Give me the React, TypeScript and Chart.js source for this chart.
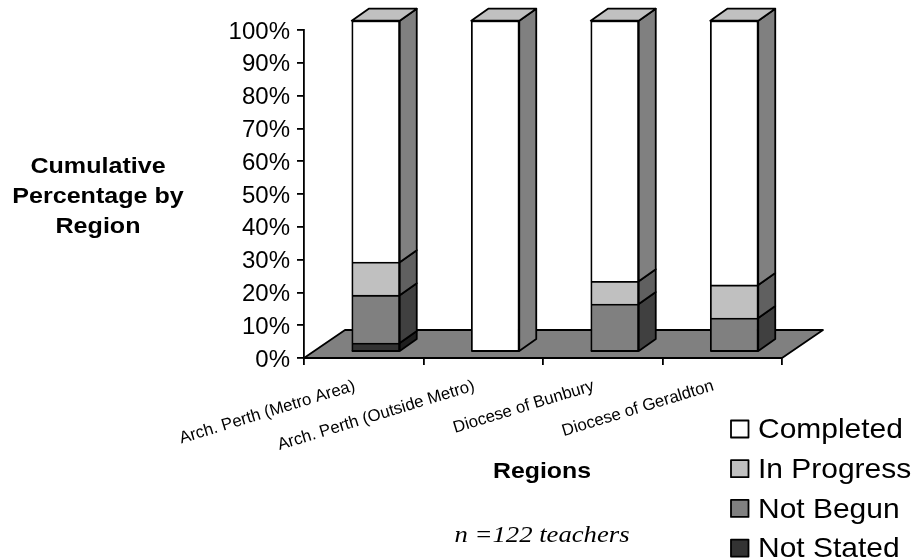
import React, { useEffect, useRef } from "react";
import { Chart, registerables } from "chart.js";

Chart.register(...registerables);

const regions = [
  "Arch. Perth (Metro Area)",
  "Arch. Perth (Outside Metro)",
  "Diocese of Bunbury",
  "Diocese of Geraldton",
];
const notStated = [2.4, 0, 0, 0];
const notBegun = [14.5, 0, 14.2, 10];
const inProgress = [10, 0, 6.9, 10];
const completed = [73.1, 100, 78.9, 80];

const seriesLabels = ["Not Stated", "Not Begun", "In Progress", "Completed"];
const frontColors = ["#333333", "#808080", "#c0c0c0", "#ffffff"];
const sideColors = ["#1f1f1f", "#404040", "#606060", "#808080"];
const capColor = "#c0c0c0";
const floorColor = "#808080";
const ink = "#000000";

const SANS = "'Liberation Sans', Arial, sans-serif";
const SERIF = "'Liberation Serif', 'Times New Roman', serif";

// Depth of the box-shaped bars and of the floor they stand on.
const BAR_DEPTH = { x: 17, y: -12 };
const FLOOR_DEPTH = { x: 41, y: -28 };
const BAR_SHIFT = 12;
const EDGE = 1.8;

function polygon(ctx: CanvasRenderingContext2D, pts: number[][], fill: string, width = EDGE) {
  ctx.beginPath();
  pts.forEach(([x, y], i) => (i ? ctx.lineTo(x, y) : ctx.moveTo(x, y)));
  ctx.closePath();
  ctx.fillStyle = fill;
  ctx.fill();
  ctx.lineWidth = width;
  ctx.strokeStyle = ink;
  ctx.lineJoin = "round";
  ctx.stroke();
}

// Text drawn slightly wider than its natural proportions.
function wideText(ctx: CanvasRenderingContext2D, text: string, x: number, y: number, stretch: number) {
  ctx.save();
  ctx.translate(x, y);
  ctx.scale(stretch, 1);
  ctx.fillText(text, 0, 0);
  ctx.restore();
}

const floorPlugin = {
  id: "floor",
  beforeDraw(chart: any) {
    const { left, right, bottom } = chart.chartArea;
    const { x: dx, y: dy } = FLOOR_DEPTH;
    polygon(chart.ctx, [[left, bottom], [right, bottom], [right + dx, bottom + dy], [left + dx, bottom + dy]], floorColor);
  },
};

// Bars sit a little behind the front edge of the floor, so the dataset layer is shifted.
const boxPlugin = {
  id: "boxes",
  beforeDatasetsDraw(chart: any) {
    chart.ctx.save();
    chart.ctx.translate(BAR_SHIFT, 0);
  },
  afterDatasetsDraw(chart: any) {
    const ctx = chart.ctx;
    const { x: dx, y: dy } = BAR_DEPTH;
    regions.forEach((_, j) => {
      let topEl: any = null;
      let lowest: any = null;
      chart.data.datasets.forEach((_d: any, i: number) => {
        const el = chart.getDatasetMeta(i).data[j];
        if (Math.abs(el.base - el.y) < 0.01) return;
        const r = el.x + el.width / 2;
        polygon(ctx, [[r, el.base], [r, el.y], [r + dx, el.y + dy], [r + dx, el.base + dy]], sideColors[i]);
        topEl = el;
        lowest = lowest || el;
      });
      if (topEl) {
        const l = topEl.x - topEl.width / 2;
        const r = topEl.x + topEl.width / 2;
        polygon(ctx, [[l, topEl.y], [r, topEl.y], [r + dx, topEl.y + dy], [l + dx, topEl.y + dy]], capColor);
        ctx.beginPath();
        ctx.moveTo(l, lowest.base);
        ctx.lineTo(r, lowest.base);
        ctx.lineWidth = EDGE;
        ctx.strokeStyle = ink;
        ctx.stroke();
      }
    });
    ctx.restore();
  },
};

const annotationPlugin = {
  id: "annotations",
  afterDraw(chart: any) {
    const ctx = chart.ctx;
    ctx.save();
    ctx.fillStyle = ink;
    ctx.textBaseline = "middle";
    ctx.textAlign = "center";
    ctx.font = `bold 22px ${SANS}`;
    ["Cumulative", "Percentage by", "Region"].forEach((t, i) => wideText(ctx, t, 98, 166.5 + i * 30, 1.14));
    wideText(ctx, "Regions", 542, 472, 1.13);
    ctx.font = `italic 23px ${SERIF}`;
    wideText(ctx, "n =122 teachers", 542, 536, 1.16);

    // Legend, with the last series at the top.
    ctx.textAlign = "left";
    ctx.font = `28px ${SANS}`;
    chart.data.datasets
      .slice()
      .reverse()
      .forEach((d: any, i: number) => {
        const y = 429 + i * 39.7;
        ctx.fillStyle = d.backgroundColor;
        ctx.fillRect(731, y - 8.5, 17.5, 17);
        ctx.lineWidth = EDGE;
        ctx.strokeStyle = ink;
        ctx.strokeRect(731, y - 8.5, 17.5, 17);
        ctx.fillStyle = ink;
        wideText(ctx, d.label, 758, y + 1.5, 1.07);
      });
    ctx.restore();
  },
};

export default function App() {
  const ref = useRef<HTMLCanvasElement>(null);
  useEffect(() => {
    const series = [notStated, notBegun, inProgress, completed];
    const chart = new Chart(ref.current!, {
      type: "bar",
      data: {
        labels: regions,
        datasets: series.map((data, i) => ({
          label: seriesLabels[i],
          data,
          yAxisID: "yBar",
          backgroundColor: frontColors[i],
          borderColor: ink,
          borderWidth: EDGE,
          barThickness: 48,
          clip: false as any,
        })),
      },
      options: {
        responsive: false,
        animation: false,
        layout: { padding: { left: 0, top: 30, right: 133, bottom: 0 } },
        plugins: { legend: { display: false }, tooltip: { enabled: false } },
        scales: {
          x: {
            stacked: true,
            afterFit: (s: any) => {
              s.height = 202;
            },
            grid: { drawOnChartArea: false, color: ink, lineWidth: EDGE, tickLength: 7, offset: true },
            border: { color: ink, width: EDGE },
            ticks: {
              autoSkip: false,
              minRotation: 17,
              maxRotation: 17,
              color: ink,
              padding: 11,
              labelOffset: -9,
              font: { family: SANS, size: 16.8 },
            },
          },
          y: {
            position: "left",
            min: 0,
            max: 100,
            afterFit: (s: any) => {
              s.width = 304;
            },
            grid: { drawOnChartArea: false, color: ink, lineWidth: EDGE, tickLength: 7 },
            border: { color: ink, width: EDGE },
            ticks: {
              stepSize: 10,
              color: ink,
              padding: 7,
              labelOffset: 2,
              font: { family: SANS, size: 24 },
              callback: (v: any) => `${v}%`,
            },
          },
          yBar: {
            display: false,
            stacked: true,
            min: -2.12,
            max: 97.18,
          },
        },
      },
      plugins: [floorPlugin, boxPlugin, annotationPlugin],
    });
    return () => chart.destroy();
  }, []);
  return (
    <div style={{ position: "fixed", left: 0, top: 0, width: 915, height: 560, background: "#fff" }}>
      <canvas ref={ref} width={915} height={560} style={{ display: "block" }} />
    </div>
  );
}
